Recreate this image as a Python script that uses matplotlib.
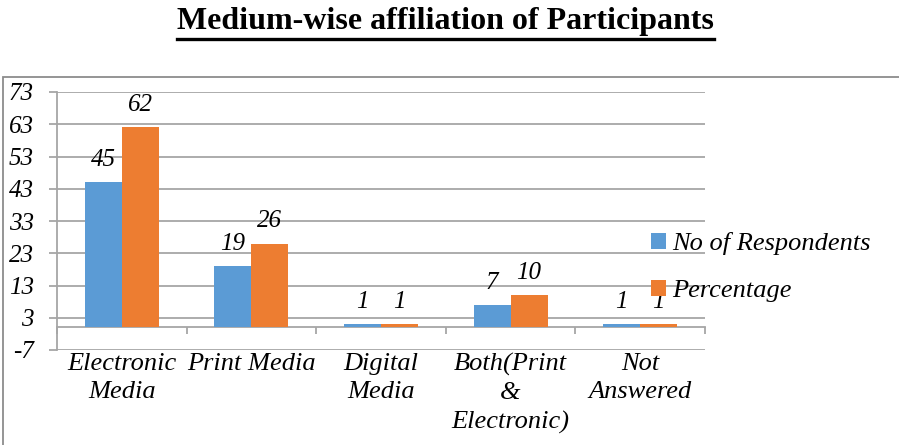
import numpy as np
import matplotlib.pyplot as plt
from matplotlib.lines import Line2D
from matplotlib.patches import Rectangle
import matplotlib.transforms as mtransforms

plt.rcParams["font.family"] = ["Liberation Serif", "DejaVu Serif"]

# data
categories = ["Electronic\nMedia", "Print Media", "Digital\nMedia",
              "Both(Print\n&\nElectronic)", "Not\nAnswered"]
respondents = [45, 19, 1, 7, 1]
percentage = [62, 26, 1, 10, 1]
yticks = list(range(-7, 74, 10))

blue = "#5B9BD5"
orange = "#ED7D31"
grid_col = "#A6A6A6"

fig = plt.figure(figsize=(8.99, 4.45), dpi=100)
ax = fig.add_axes([57 / 899, 1 - 350 / 445, (705 - 57) / 899, (350 - 92) / 445])

x = np.arange(len(categories))
w = 0.285
b1 = ax.bar(x - w / 2, respondents, w, color=blue, label="No of Respondents", zorder=3)
b2 = ax.bar(x + w / 2, percentage, w, color=orange, label="Percentage", zorder=3)

for bars in (b1, b2):
    for rect in bars:
        h = rect.get_height()
        ax.annotate(f"{h:g}", (rect.get_x() + rect.get_width() / 2, h),
                    xytext=(0, 8), textcoords="offset points",
                    ha="center", va="bottom", fontsize=18, style="italic")

ax.set_xlim(-0.5, len(categories) - 0.5)
ax.set_ylim(-7, 73)
ax.set_yticks(yticks)
ax.set_yticklabels([str(t) for t in yticks], fontsize=18, style="italic")
ax.tick_params(axis="y", length=5.8, color=grid_col, width=1.3, pad=11)
ax.grid(axis="y", color=grid_col, linewidth=1.3, zorder=0)

# category axis at zero
ax.spines["bottom"].set_position(("data", 0))
ax.spines["bottom"].set_color(grid_col)
ax.spines["bottom"].set_linewidth(1.3)
ax.spines["left"].set_color(grid_col)
ax.spines["left"].set_linewidth(1.3)
ax.spines["top"].set_visible(False)
ax.spines["right"].set_visible(False)
ax.set_xticks(np.arange(len(categories) + 1) - 0.5)
ax.set_xticklabels([])
ax.tick_params(axis="x", length=5, color=grid_col, width=1.3, direction="out")

trans = mtransforms.blended_transform_factory(ax.transData, ax.transAxes)
for i, c in enumerate(categories):
    ax.text(i, -0.01, c, transform=trans, ha="center", va="top",
            fontsize=19, style="italic", linespacing=1.38)

leg = fig.legend(loc="upper left", bbox_to_anchor=(651 / 899, 1 - 232 / 445),
                 frameon=False, handlelength=0.55, handleheight=0.55,
                 handletextpad=0.25, labelspacing=0.95, borderpad=0,
                 borderaxespad=0, prop={"size": 19, "style": "italic"})

# chart area border
fig.add_artist(Rectangle((3 / 899, -0.1), 1.2, 1 - 77 / 445 + 0.1,
                         transform=fig.transFigure, fill=False,
                         edgecolor="#8C8C8C", linewidth=1.3))

title = fig.text(0.496, 1 - 22 / 445, "Medium-wise affiliation of Participants",
                 ha="center", va="center", fontsize=23, fontweight="bold")
fig.canvas.draw()
bb = title.get_window_extent().transformed(fig.transFigure.inverted())
fig.add_artist(Line2D([bb.x0, bb.x1], [1 - 39 / 445] * 2, color="black",
                      linewidth=2.4, transform=fig.transFigure))

fig.savefig("out.png", dpi=100)
